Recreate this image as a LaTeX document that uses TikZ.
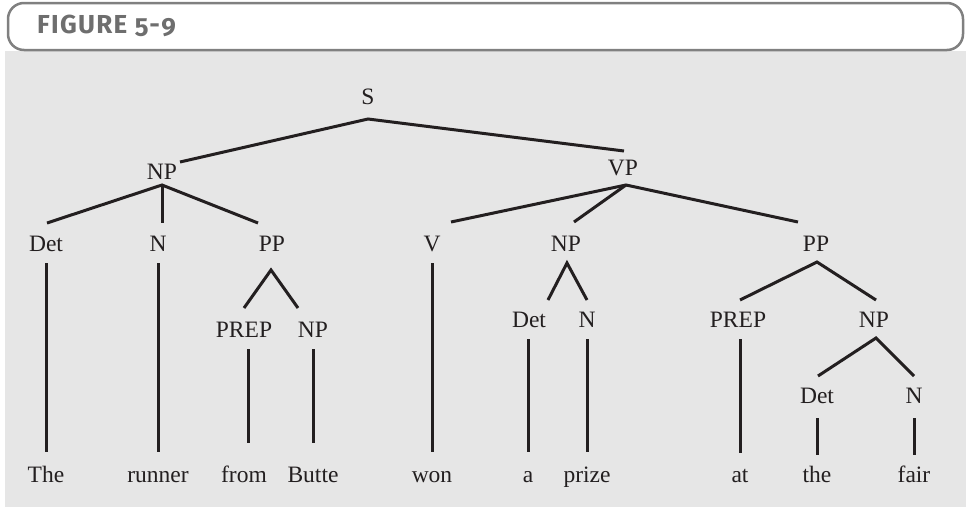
\documentclass[tikz,border=0pt]{standalone}
\usepackage{fontspec}
\setmainfont{Liberation Serif}
\newfontfamily\headfont[Numbers=OldStyle,LetterSpace=5]{Fira Sans}
\definecolor{bggray}{HTML}{E6E6E6}
\definecolor{framegray}{HTML}{808080}
\definecolor{headgray}{HTML}{6E6E6E}
\definecolor{ink}{HTML}{231F20}
\tikzset{
  lbl/.style={anchor=base, inner sep=0pt, text=ink, font=\fontsize{23.5}{27}\selectfont},
  branch/.style={draw=ink, line width=3pt},
}
\begin{document}
\begin{tikzpicture}[x=1pt,y=-1pt]
\useasboundingbox (0,0) rectangle (966,507);
\fill[white] (0,0) rectangle (966,507);
\fill[bggray] (5,51) rectangle (966,507);
\draw[framegray, line width=2.5pt, rounded corners=16pt, fill=white] (8,3) rectangle (963,50);
\node[anchor=base west, inner sep=0pt, text=headgray, font=\headfont\bfseries\fontsize{26}{28}\selectfont] (title) at (37,33) {FIGURE 5-9};

% labels
\node[lbl] (S) at (368,104) {S};
\node[lbl] (NPa) at (162,179) {NP};
\node[lbl] (VP) at (623,175) {VP};
\node[lbl] (Deta) at (46,251) {Det};
\node[lbl] (Na) at (158,251) {N};
\node[lbl] (PPa) at (272,251) {PP};
\node[lbl] (V) at (432,251) {V};
\node[lbl] (NPb) at (566,251) {NP};
\node[lbl] (PPb) at (816,251) {PP};
\node[lbl] (PREPa) at (244,337) {PREP};
\node[lbl] (NPc) at (313,337) {NP};
\node[lbl] (Detb) at (529,327) {Det};
\node[lbl] (Nb) at (587,327) {N};
\node[lbl] (PREPb) at (738,327) {PREP};
\node[lbl] (NPd) at (874,327) {NP};
\node[lbl] (Detc) at (817,403) {Det};
\node[lbl] (Nc) at (914,403) {N};
% words
\node[lbl] (wThe) at (46,482) {The};
\node[lbl] (wrunner) at (158,482) {runner};
\node[lbl] (wfrom) at (244,482) {from};
\node[lbl] (wButte) at (313,482) {Butte};
\node[lbl] (wwon) at (432,482) {won};
\node[lbl] (wa) at (528,482) {a};
\node[lbl] (wprize) at (587,482) {prize};
\node[lbl] (wat) at (740,482) {at};
\node[lbl] (wthe) at (817,482) {the};
\node[lbl] (wfair) at (914,482) {fair};

% branch points
\coordinate (S-d) at (368,119);
\coordinate (NPa-u) at (180,162);
\coordinate (NPa-d) at (162,185);
\coordinate (VP-u) at (624,151);
\coordinate (VP-d) at (626,185);
\coordinate (Deta-u) at (47,223);
\coordinate (Deta-d) at (46,263);
\coordinate (Na-u) at (162,223);
\coordinate (Na-d) at (158,263);
\coordinate (PPa-u) at (258,223);
\coordinate (PPa-d) at (271,270);
\coordinate (V-u) at (451,222);
\coordinate (V-d) at (432,263);
\coordinate (NPb-u) at (574,222);
\coordinate (NPb-d) at (567,263);
\coordinate (PPb-u) at (798,222);
\coordinate (PPb-d) at (817,262);
\coordinate (PREPa-u) at (244,308);
\coordinate (PREPa-d) at (248,349);
\coordinate (NPc-u) at (298,308);
\coordinate (NPc-d) at (313,349);
\coordinate (Detb-u) at (548,300);
\coordinate (Detb-d) at (528,339);
\coordinate (Nb-u) at (587,300);
\coordinate (Nb-d) at (587,339);
\coordinate (PREPb-u) at (740,300);
\coordinate (PREPb-d) at (740,339);
\coordinate (NPd-u) at (876,300);
\coordinate (NPd-d) at (876,338);
\coordinate (Detc-u) at (818,376);
\coordinate (Detc-d) at (817,418);
\coordinate (Nc-u) at (914,376);
\coordinate (Nc-d) at (914,418);
\coordinate (wThe-u) at (46,452);
\coordinate (wrunner-u) at (158,452);
\coordinate (wfrom-u) at (248,443);
\coordinate (wButte-u) at (313,443);
\coordinate (wwon-u) at (432,452);
\coordinate (wa-u) at (528,452);
\coordinate (wprize-u) at (587,452);
\coordinate (wat-u) at (740,453);
\coordinate (wthe-u) at (817,455);
\coordinate (wfair-u) at (914,455);

% branches
\draw[branch] (NPa-u) -- (S-d) -- (VP-u);
\draw[branch] (Deta-u) -- (NPa-d) -- (PPa-u);
\draw[branch] (NPa-d) -- (Na-u);
\draw[branch] (V-u) -- (VP-d) -- (PPb-u);
\draw[branch] (VP-d) -- (NPb-u);
\draw[branch] (PREPa-u) -- (PPa-d) -- (NPc-u);
\draw[branch] (Detb-u) -- (NPb-d) -- (Nb-u);
\draw[branch] (PREPb-u) -- (PPb-d) -- (NPd-u);
\draw[branch] (Detc-u) -- (NPd-d) -- (Nc-u);
\draw[branch] (Deta-d) -- (wThe-u);
\draw[branch] (Na-d) -- (wrunner-u);
\draw[branch] (PREPa-d) -- (wfrom-u);
\draw[branch] (NPc-d) -- (wButte-u);
\draw[branch] (V-d) -- (wwon-u);
\draw[branch] (Detb-d) -- (wa-u);
\draw[branch] (Nb-d) -- (wprize-u);
\draw[branch] (PREPb-d) -- (wat-u);
\draw[branch] (Detc-d) -- (wthe-u);
\draw[branch] (Nc-d) -- (wfair-u);
\end{tikzpicture}
\end{document}
